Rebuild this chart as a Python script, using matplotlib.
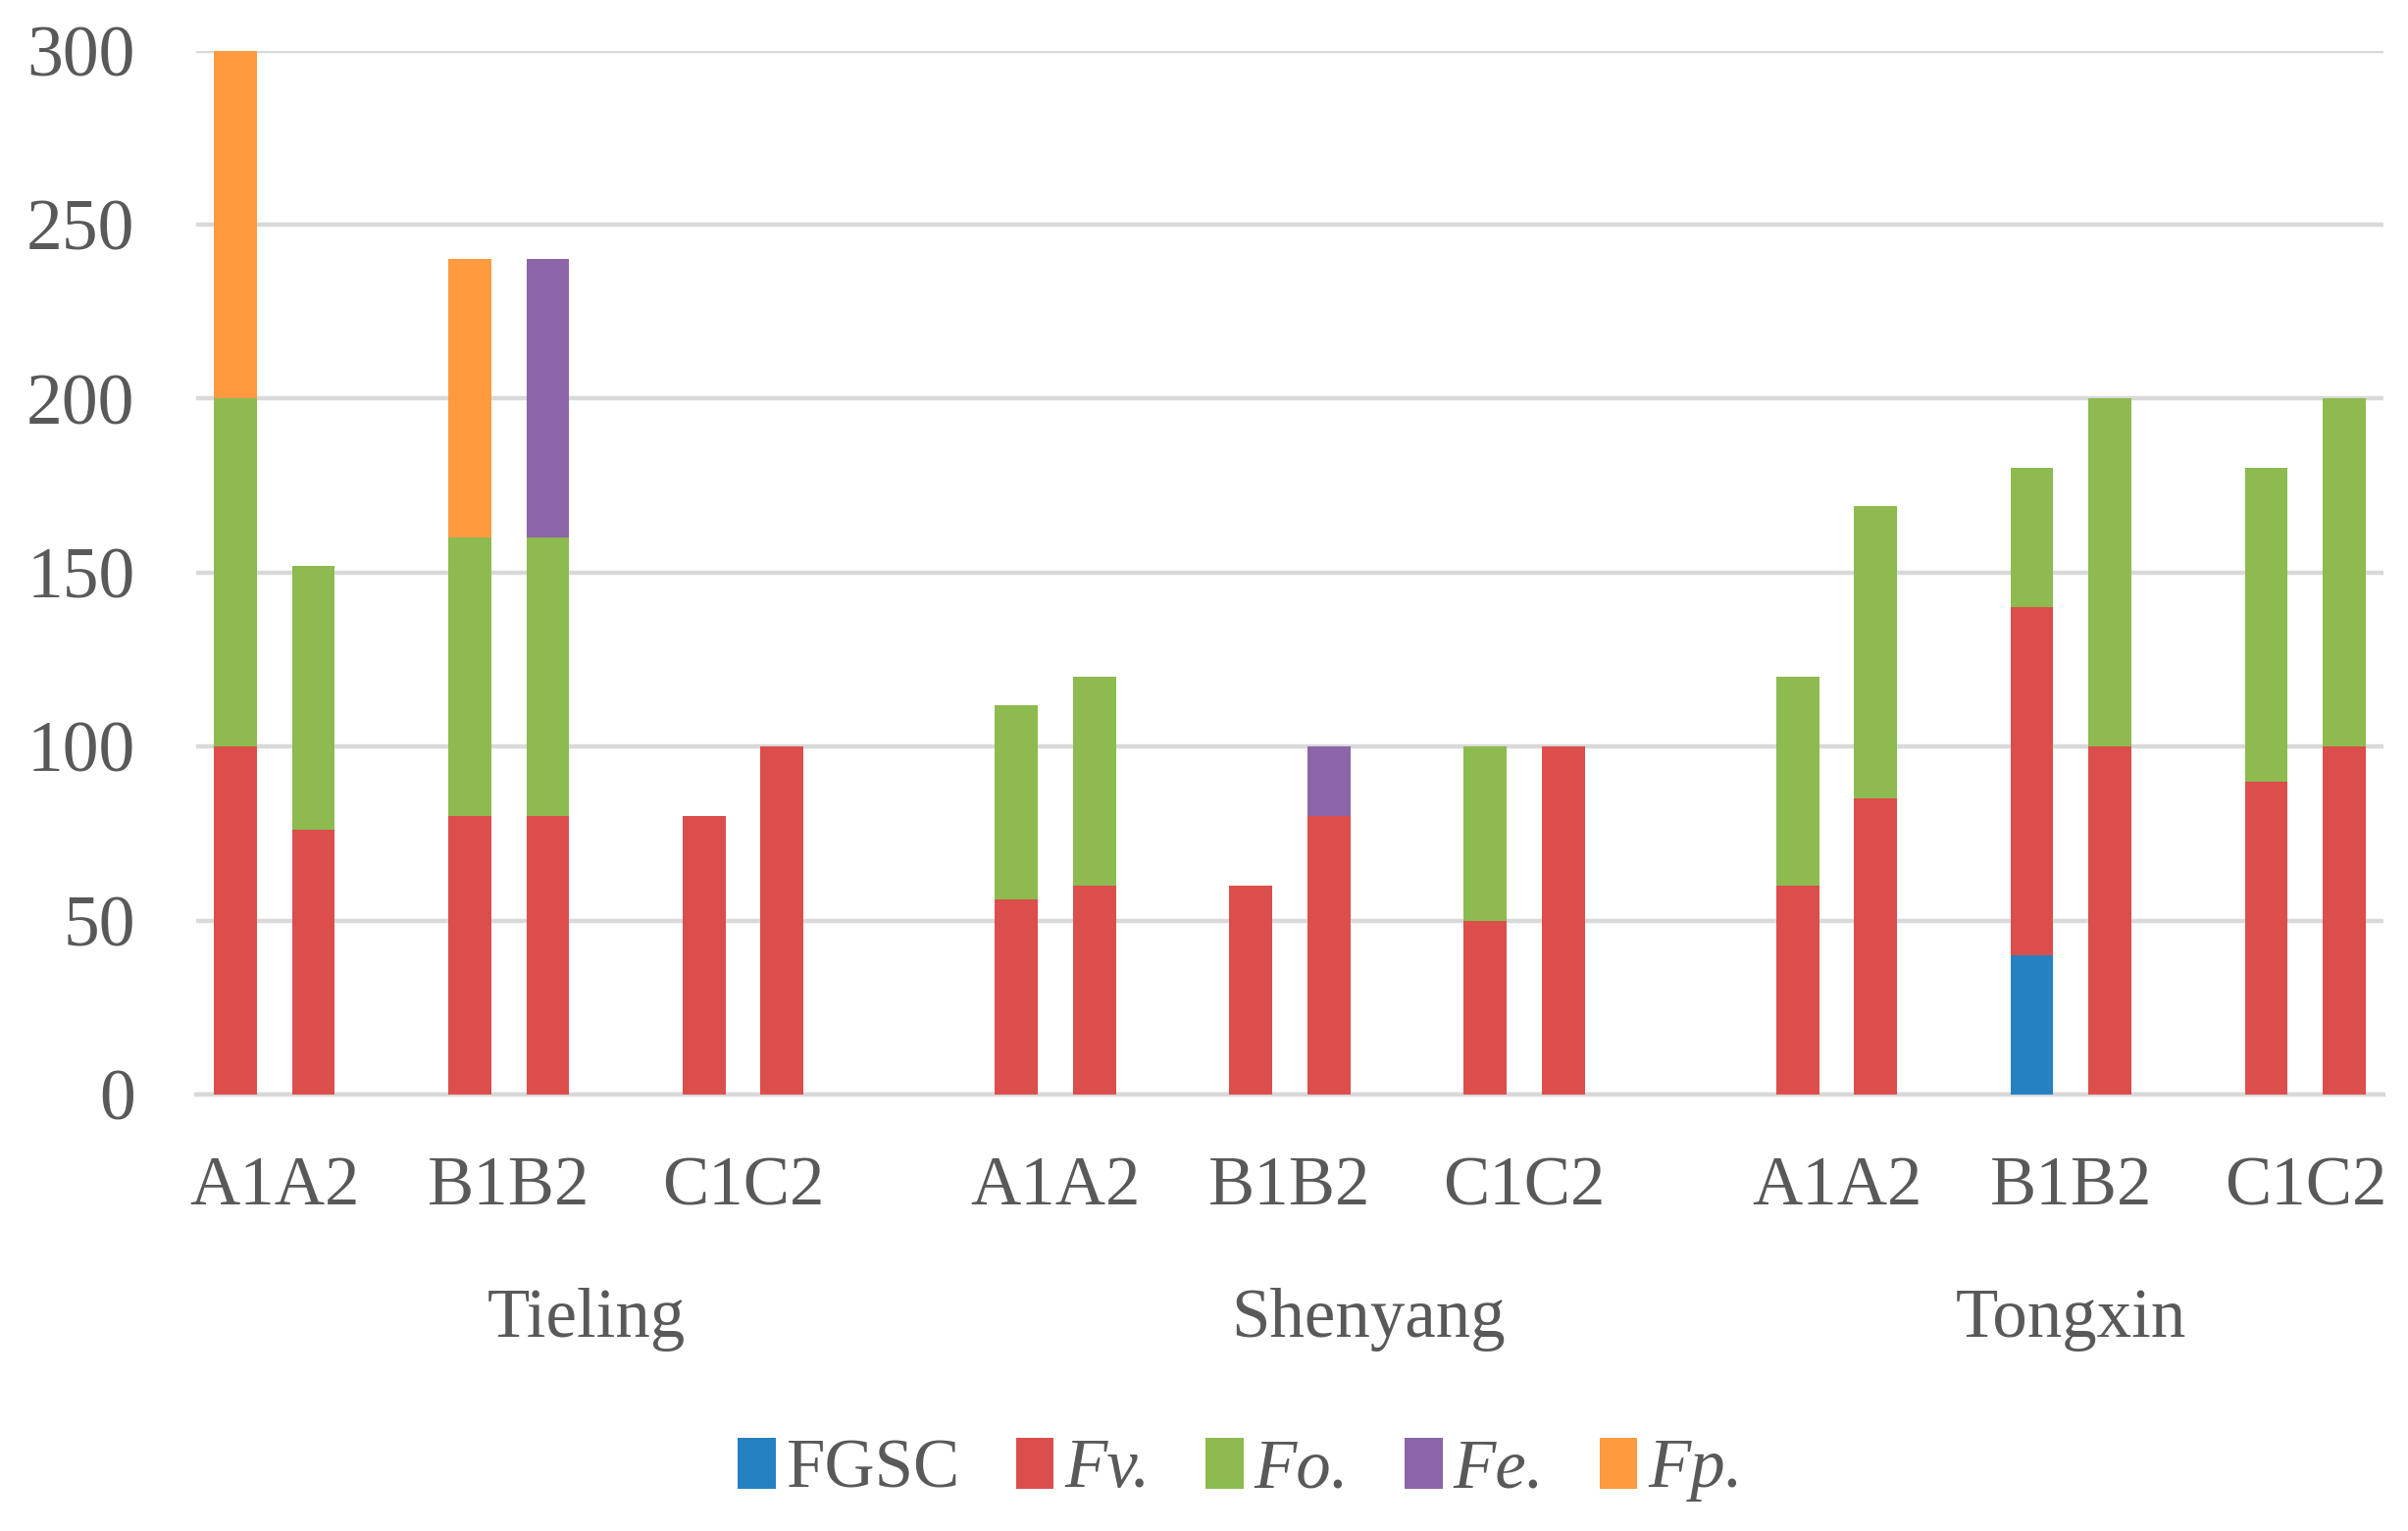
import numpy as np
import matplotlib
matplotlib.use("Agg")
import matplotlib.pyplot as plt
from matplotlib.patches import Patch

# bar categories inside each city, and the cities
pairs = ["A1A2", "B1B2", "C1C2"]
cities = ["Tieling", "Shenyang", "Tongxin"]
bar_names = ["A1", "A2", "B1", "B2", "C1", "C2"]

# stacked values, one entry per bar (Tieling x6, Shenyang x6, Tongxin x6)
FGSC = [0, 0, 0, 0, 0, 0,   0, 0, 0, 0, 0, 0,    0, 0, 40, 0, 0, 0]
Fv   = [100, 76, 80, 80, 80, 100,  56, 60, 60, 80, 50, 100,  60, 85, 100, 100, 90, 100]
Fo   = [100, 76, 80, 80, 0, 0,     56, 60, 0, 0, 50, 0,      60, 84, 40, 100, 90, 100]
Fe   = [0, 0, 0, 80, 0, 0,   0, 0, 0, 20, 0, 0,   0, 0, 0, 0, 0, 0]
Fp   = [100, 0, 80, 0, 0, 0, 0, 0, 0, 0, 0, 0,    0, 0, 0, 0, 0, 0]

series = [("FGSC", FGSC, "#2581C1"),
          ("Fv.", Fv, "#DC4E4C"),
          ("Fo.", Fo, "#8DBB4F"),
          ("Fe.", Fe, "#8B65A7"),
          ("Fp.", Fp, "#FF9A3F")]

# slot layout like the excel sheet: two bars, one blank, ... two blanks between cities
inner = np.array([0, 1, 3, 4, 6, 7])
x = np.concatenate([inner + 10 * i for i in range(len(cities))])

txt = "#595959"
plt.rcParams['font.family'] = ['Liberation Serif', 'DejaVu Serif']

fig = plt.figure(figsize=(24.55, 15.61), dpi=100)
ax = fig.add_axes([0.0815, 0.285, 0.9083, 0.682])

bottom = np.zeros(len(x))
for name, vals, col in series:
    vals = np.array(vals, dtype=float)
    ax.bar(x, vals, width=0.55, bottom=bottom, color=col, zorder=3)
    bottom += vals

ax.set_xlim(-0.5, 27.5)
ax.set_ylim(0, 300)
ax.set_yticks(np.arange(0, 301, 50))
ax.yaxis.grid(True, color="#D9D9D9", linewidth=3.2, zorder=0)
for s in ["left", "right", "top"]:
    ax.spines[s].set_visible(False)
ax.spines["bottom"].set_color("#D9D9D9")
ax.spines["bottom"].set_linewidth(3.2)

tick_pos = np.concatenate([np.array([0.5, 3.5, 6.5]) + 10 * i for i in range(len(cities))])
ax.set_xticks(tick_pos)
ax.set_xticklabels(pairs * len(cities))
ax.tick_params(axis="x", length=0, pad=68, labelsize=51, labelcolor=txt)
ax.tick_params(axis="y", length=0, pad=45, labelsize=53, labelcolor=txt)
for lab in ax.get_xticklabels():
    lab.set_va("center")

city_pos = [4.5, 14.5, 23.5]
for cx, name in zip(city_pos, cities):
    ax.text(cx, -0.215, name, transform=ax.get_xaxis_transform(),
            ha="center", va="center", fontsize=51, color=txt)

handles = [Patch(facecolor=c, edgecolor="none") for _, _, c in series]
leg = fig.legend(handles, [n for n, _, _ in series], loc="center",
                 bbox_to_anchor=(0.515, 0.04), ncol=5, frameon=False,
                 fontsize=51, handlelength=0.55, handleheight=0.75,
                 handletextpad=0.15, columnspacing=0.8)
for i, t in enumerate(leg.get_texts()):
    t.set_color(txt)
    if i > 0:
        t.set_fontstyle("italic")

fig.savefig("out.png", dpi=100)
